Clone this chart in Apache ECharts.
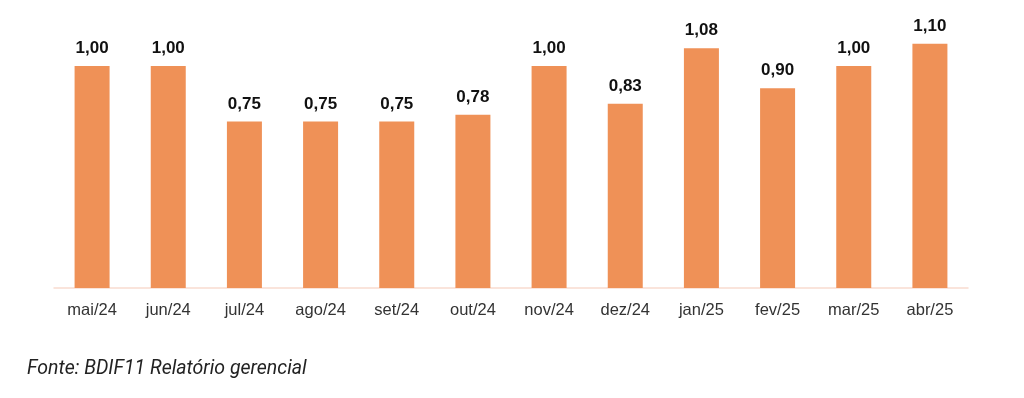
<!DOCTYPE html>
<html>
<head>
<meta charset="utf-8">
<script src="https://cdn.jsdelivr.net/npm/echarts@6/dist/echarts.min.js"></script>
<style>
  html, body { margin: 0; padding: 0; background: #fff; }
  #chart { width: 1024px; height: 398px; }
</style>
</head>
<body>
<div id="chart"></div>
<script>
// meses e dividendos por cota
var meses = ['mai/24', 'jun/24', 'jul/24', 'ago/24', 'set/24', 'out/24', 'nov/24', 'dez/24', 'jan/25', 'fev/25', 'mar/25', 'abr/25'];
var valores = [1.00, 1.00, 0.75, 0.75, 0.75, 0.78, 1.00, 0.83, 1.08, 0.90, 1.00, 1.10];

var myChart = echarts.init(document.getElementById('chart'));
myChart.setOption({
  animation: false,
  grid: { left: 54, right: 56, top: 21.6, bottom: 110 },
  xAxis: {
    type: 'category',
    data: meses,
    axisLine: { lineStyle: { color: '#F9DCCF', width: 1.5 } },
    axisTick: { show: false },
    axisLabel: {
      color: '#333',
      fontSize: 16.5,
      fontFamily: 'Liberation Sans, Arial, sans-serif',
      margin: 14
    }
  },
  yAxis: {
    type: 'value',
    min: 0,
    max: 1.2,
    show: false,
    splitLine: { show: false }
  },
  series: [{
    type: 'bar',
    data: valores,
    barWidth: 35,
    itemStyle: { color: '#EF9157' },
    label: {
      show: true,
      position: 'top',
      distance: 9,
      color: '#111',
      fontSize: 17,
      fontWeight: 'bold',
      fontFamily: 'Liberation Sans, Arial, sans-serif',
      formatter: function (p) { return p.value.toFixed(2).replace('.', ','); }
    }
  }],
  graphic: [{
    type: 'text',
    left: 27,
    top: 359,
    style: {
      text: 'Fonte: BDIF11 Relatório gerencial',
      fill: '#222',
      font: 'italic 19.5px Roboto, "Noto Sans", sans-serif'
    }
  }]
});
</script>
</body>
</html>
